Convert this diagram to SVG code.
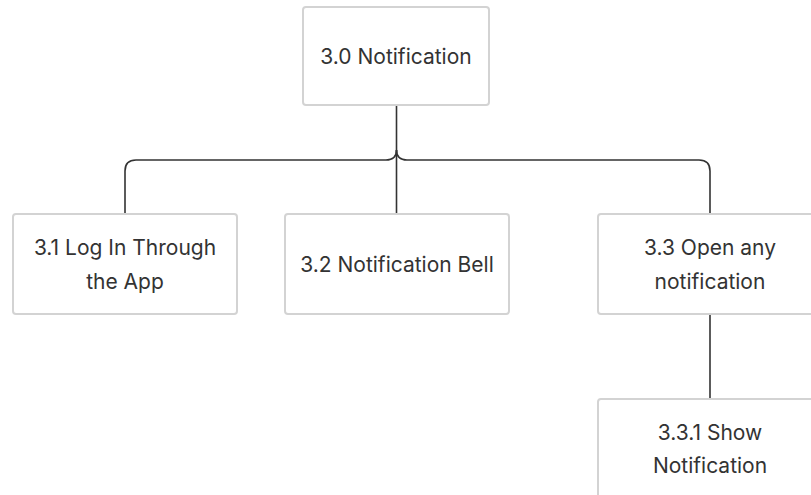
<svg xmlns="http://www.w3.org/2000/svg" width="811" height="495" viewBox="0 0 811 495">
<style>
.box{fill:#fff;stroke:#d3d3d3;stroke-width:2}
.lbl{font-family:Inter,"Liberation Sans",sans-serif;font-size:21px;fill:#333;text-anchor:middle}
.conn{fill:none;stroke:#333;stroke-width:1.6}
</style>
<rect width="811" height="495" fill="#fff"/>
<g id="connectors">
<path class="conn" d="M396.5 105 V214"/>
<path class="conn" d="M125 214 V171 Q125 160 136 160 H386 Q396.5 160 396.5 150"/>
<path class="conn" d="M710 214 V171 Q710 160 699 160 H407 Q396.5 160 396.5 150"/>
<path class="conn" d="M710 314 V399"/>
</g>
<g id="n30"><rect class="box" x="303" y="7" width="186" height="98" rx="3"/><text class="lbl" x="396" y="64">3.0 Notification</text></g>
<g id="n31"><rect class="box" x="13" y="214" width="224" height="100" rx="3"/><text class="lbl" x="125" y="255">3.1 Log In Through</text><text class="lbl" x="125" y="289">the App</text></g>
<g id="n32"><rect class="box" x="285" y="214" width="224" height="100" rx="3"/><text class="lbl" x="397" y="272">3.2 Notification Bell</text></g>
<g id="n33"><rect class="box" x="598" y="214" width="224" height="100" rx="3"/><text class="lbl" x="710" y="255">3.3 Open any</text><text class="lbl" x="710" y="289">notification</text></g>
<g id="n331"><rect class="box" x="598" y="399" width="224" height="110" rx="3"/><text class="lbl" x="710" y="440">3.3.1 Show</text><text class="lbl" x="710" y="473">Notification</text></g>
</svg>
